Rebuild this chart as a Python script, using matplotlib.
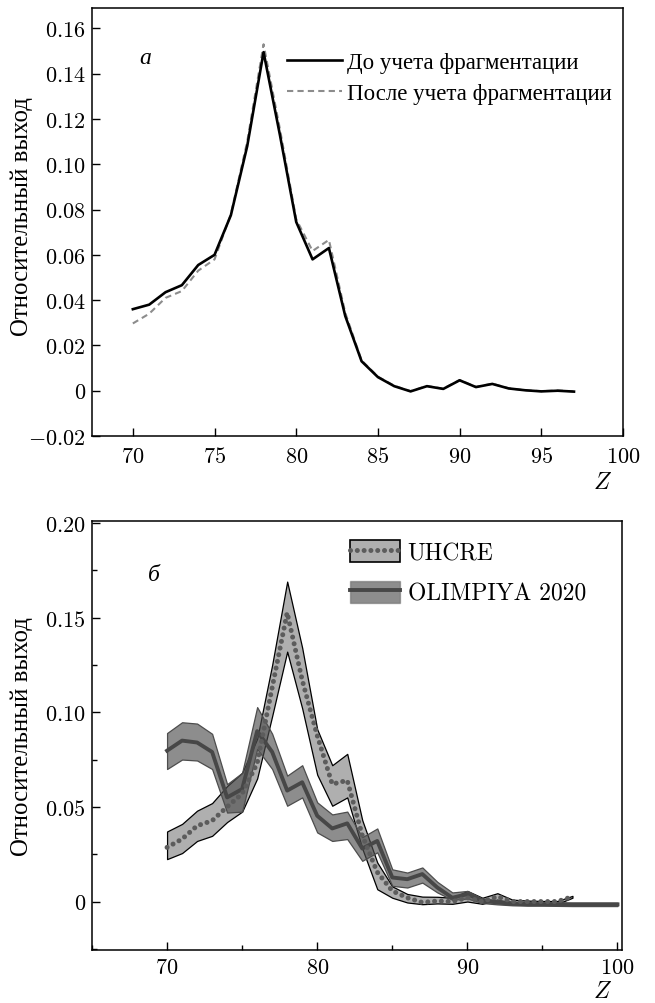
import matplotlib
matplotlib.use("Agg")
import matplotlib.pyplot as plt
from matplotlib.patches import Patch
from matplotlib.ticker import FuncFormatter, MultipleLocator

plt.rcParams["font.family"] = ["cmr10", "Liberation Serif"]
plt.rcParams["mathtext.fontset"] = "cm"
plt.rcParams["axes.formatter.use_mathtext"] = True

CYR = "Liberation Serif"

# panel a: yield before / after fragmentation
z_a = list(range(70, 98))
before = [0.036, 0.038, 0.0435, 0.0466, 0.0555, 0.060, 0.0775, 0.108, 0.1495, 0.113,
          0.0745, 0.058, 0.063, 0.033, 0.013, 0.006, 0.002, -0.0003, 0.002, 0.0008,
          0.0046, 0.0016, 0.003, 0.001, 0.0002, -0.0003, 0.0, -0.0004]
after = [0.0297, 0.034, 0.041, 0.044, 0.053, 0.058, 0.078, 0.110, 0.153, 0.1156,
         0.0757, 0.0617, 0.0666, 0.0344, 0.0134, 0.0062, 0.0022, -0.0002, 0.0021, 0.0009,
         0.0047, 0.0017, 0.0031, 0.0011, 0.0002, -0.0002, 0.0001, -0.0003]
labels_a = ["До учета фрагментации", "После учета фрагментации"]

# panel b: UHCRE vs OLIMPIYA 2020 with bands
z_uhcre = list(range(70, 98))
uhcre = [0.0286, 0.033, 0.040, 0.0427, 0.050, 0.057, 0.073, 0.113, 0.1526, 0.117,
         0.0877, 0.062, 0.064, 0.035, 0.0155, 0.0056, 0.002, -0.0005, 0.0003, 0.0,
         0.002, 0.0, 0.0026, 0.0, 0.0, 0.0, 0.0, 0.0026]
uhcre_hi = [0.037, 0.041, 0.048, 0.052, 0.061, 0.068, 0.086, 0.125, 0.169, 0.134,
            0.091, 0.072, 0.078, 0.043, 0.0206, 0.008, 0.004, 0.0026, 0.0025, 0.002,
            0.0056, 0.002, 0.0044, 0.001, 0.0005, 0.0003, 0.0003, 0.003]
uhcre_lo = [0.0224, 0.0256, 0.032, 0.0347, 0.042, 0.0475, 0.065, 0.098, 0.132, 0.102,
            0.067, 0.0506, 0.055, 0.028, 0.0065, 0.002, -0.0005, -0.0014, -0.001, -0.0012,
            0.0, -0.0012, 0.001, -0.0012, -0.0012, -0.0012, -0.0012, 0.002]

z_olimp = list(range(70, 101))
olimp = [0.0797, 0.085, 0.084, 0.079, 0.055, 0.0594, 0.090, 0.079, 0.0586, 0.063,
         0.0453, 0.0386, 0.0413, 0.028, 0.032, 0.0127, 0.0118, 0.0145, 0.0074, 0.002,
         0.0039, 0.0004, -0.0005, -0.0012, -0.0014, -0.0014, -0.0014, -0.0015, -0.0015, -0.0015,
         -0.0015]
olimp_hi = [0.089, 0.0947, 0.094, 0.0886, 0.062, 0.068, 0.1027, 0.0886, 0.0665, 0.072,
            0.0524, 0.046, 0.0475, 0.034, 0.0386, 0.017, 0.0153, 0.018, 0.0104, 0.0048,
            0.0056, 0.0016, 0.0008, 0.0, -0.0004, -0.0004, -0.0005, -0.0006, -0.0006, -0.0006,
            -0.0006]
olimp_lo = [0.070, 0.075, 0.0745, 0.070, 0.047, 0.0475, 0.0806, 0.070, 0.0506, 0.055,
            0.0365, 0.032, 0.033, 0.0215, 0.026, 0.0083, 0.0074, 0.010, 0.0048, 0.0009,
            0.0016, -0.0008, -0.0015, -0.002, -0.0022, -0.0022, -0.0023, -0.0024, -0.0024, -0.0024,
            -0.0024]
labels_b = ["UHCRE", "OLIMPIYA 2020"]

YLABEL = "Относительный выход"


def yfmt(v, pos):
	if abs(v) < 1e-9:
		return "$0$"
	return "$%.2f$" % v


def xfmt(v, pos):
	return "$%d$" % round(v)


def style_axes(ax, xpad):
	for s in ax.spines.values():
		s.set_linewidth(1.1)
	ax.tick_params(which="both", direction="in", top=False, right=False,
	               labelsize=16, width=1.0)
	ax.tick_params(which="major", length=5.6)
	ax.tick_params(which="minor", length=3.5)
	ax.tick_params(axis="y", pad=4.5)
	ax.tick_params(axis="x", pad=xpad)
	ax.yaxis.set_major_formatter(FuncFormatter(yfmt))
	ax.xaxis.set_major_formatter(FuncFormatter(xfmt))


fig = plt.figure(figsize=(6.55, 10.04), dpi=100)

# ---- panel a
ax1 = fig.add_axes([92 / 655, 1 - 437 / 1004, 531 / 655, 428 / 1004])
l2, = ax1.plot(z_a, after, color="0.55", lw=1.5, linestyle=(0, (3, 2)), zorder=2)
l1, = ax1.plot(z_a, before, color="black", lw=1.9, zorder=3)
ax1.set_xlim(67.5, 100)
ax1.set_ylim(-0.02, 0.169)
ax1.xaxis.set_major_locator(MultipleLocator(5))
ax1.yaxis.set_major_locator(MultipleLocator(0.02))
style_axes(ax1, 7.5)
ax1.legend([l1, l2], labels_a, loc="upper left", bbox_to_anchor=(0.367, 0.897),
           frameon=False, borderpad=0, borderaxespad=0, handlelength=2.4,
           handletextpad=0.22, labelspacing=0.42, prop={"family": CYR, "size": 16.5})
ax1.text(0.0998, 0.885, "а", transform=ax1.transAxes, ha="center", va="center",
         family=CYR, style="italic", fontsize=17)
ax1.text(0.962, -0.107, "$Z$", transform=ax1.transAxes, ha="center", va="center",
         fontsize=17)
fig.text(22 / 655, 1 - 217 / 1004, YLABEL, rotation=90, ha="center", va="center",
         family=CYR, fontsize=17.8)

# ---- panel b
ax2 = fig.add_axes([92 / 655, 1 - 951 / 1004, 530 / 655, 429 / 1004])
uh_face = (0.45, 0.45, 0.45, 0.57)
ol_face = (0.3, 0.3, 0.3, 0.64)
ax2.fill_between(z_uhcre, uhcre_lo, uhcre_hi, facecolor=uh_face, edgecolor="black",
                 lw=0.9, zorder=1)
ax2.fill_between(z_olimp, olimp_lo, olimp_hi, facecolor=ol_face, edgecolor="0.3",
                 lw=0.9, zorder=2)
ol_line, = ax2.plot(z_olimp, olimp, color="0.28", lw=2.8, zorder=3)
uh_line, = ax2.plot(z_uhcre, uhcre, color="0.36", lw=3.6, linestyle=(0, (0.01, 1.35)),
                    dash_capstyle="round", zorder=4)
ax2.set_xlim(65, 100.3)
ax2.set_ylim(-0.0256, 0.201)
ax2.xaxis.set_major_locator(MultipleLocator(10))
ax2.xaxis.set_minor_locator(MultipleLocator(5))
ax2.yaxis.set_major_locator(MultipleLocator(0.05))
ax2.yaxis.set_minor_locator(MultipleLocator(0.025))
style_axes(ax2, 5.5)
uh_patch = Patch(facecolor=uh_face, edgecolor="black", lw=1.2)
ol_patch = Patch(facecolor=ol_face, edgecolor=(0.3, 0.3, 0.3, 0.4), lw=1.0)
ax2.legend([(uh_patch, uh_line), (ol_patch, ol_line)], labels_b, loc="upper left",
           bbox_to_anchor=(0.487, 0.955), frameon=False, borderpad=0, borderaxespad=0,
           handlelength=2.1, handleheight=1.05, handletextpad=0.34, labelspacing=0.7,
           prop={"family": "cmr10", "size": 17})
ax2.text(0.117, 0.876, "б", transform=ax2.transAxes, ha="center", va="center",
         family=CYR, style="italic", fontsize=17)
ax2.text(0.964, -0.095, "$Z$", transform=ax2.transAxes, ha="center", va="center",
         fontsize=17)
fig.text(22 / 655, 1 - 737 / 1004, YLABEL, rotation=90, ha="center", va="center",
         family=CYR, fontsize=17.8)

fig.savefig("out.png", dpi=100)
